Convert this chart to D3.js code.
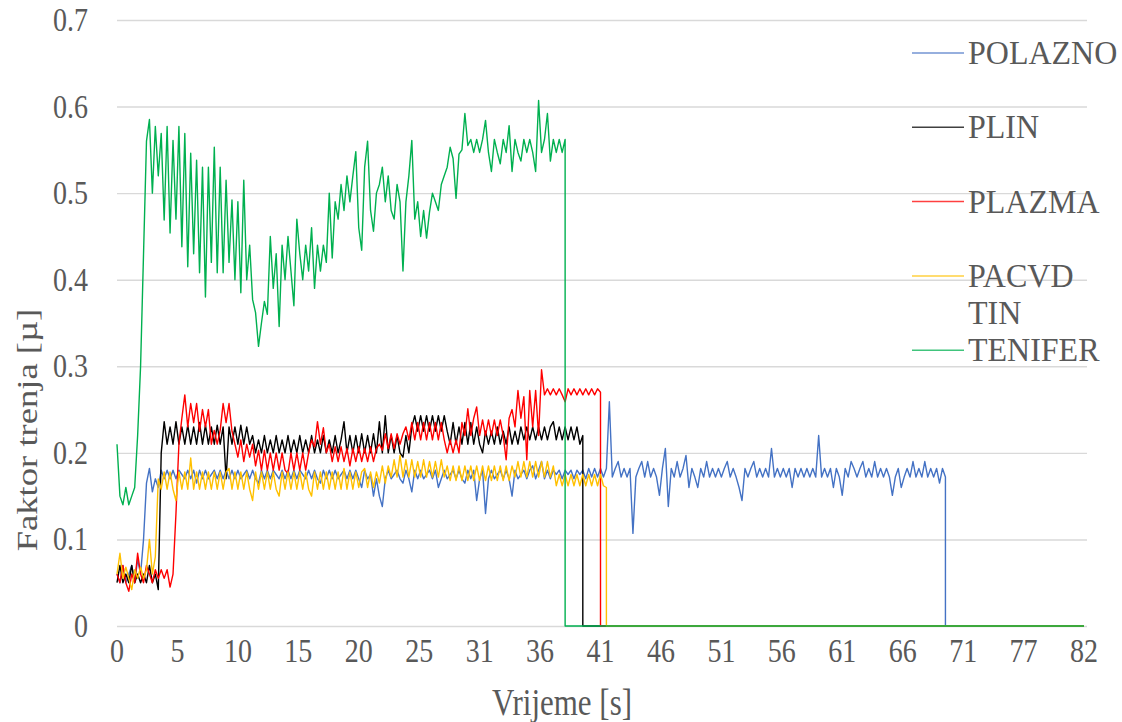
<!DOCTYPE html>
<html>
<head>
<meta charset="utf-8">
<script src="https://cdn.jsdelivr.net/npm/d3@7"></script>
<style>
  body { margin: 0; background: #fff; }
</style>
</head>
<body>
<div class="svg-container"></div>
<script>
// chart values (one sample every 0.25 s)
const sampleStep = 0.25;
const xMax = 82;
const xTickLabels = ['0', '5', '10', '15', '20', '25', '31', '36', '41', '46', '51', '56', '61', '66', '71', '77', '82'];
const yTicks = [0, 0.1, 0.2, 0.3, 0.4, 0.5, 0.6, 0.7];
const seriesNames = ['POLAZNO', 'PLIN', 'PLAZMA', 'PACVD TIN', 'TENIFER'];
const seriesColors = ['#4472C4', '#000000', '#FF0000', '#FFC000', '#00B050'];

const polaznoValues = [
  .06, .05, .07, .05, .06, .07, .05, .077, .06, .1, .165, .182, .155, .17, .16, .18, .17, .18, .17, .18,
  .17, .18, .175, .17, .18, .17, .18, .165, .18, .17, .18, .17, .175, .18, .17, .18, .17, .18, .17, .18,
  .17, .18, .17, .175, .18, .17, .18, .17, .165, .18, .17, .18, .17, .18, .175, .17, .18, .17, .18, .17,
  .18, .17, .18, .175, .17, .18, .17, .18, .17, .165, .18, .17, .18, .17, .18, .17, .175, .18, .17, .18,
  .17, .18, .17, .16, .18, .17, .175, .15, .17, .15, .138, .17, .18, .17, .175, .18, .17, .165, .18, .17,
  .155, .18, .17, .18, .17, .175, .18, .17, .18, .16, .17, .18, .17, .175, .18, .17, .18, .17, .165, .18,
  .17, .18, .145, .17, .18, .13, .17, .18, .17, .175, .18, .17, .18, .17, .15, .18, .17, .175, .18, .17,
  .18, .185, .17, .18, .19, .17, .18, .17, .18, .175, .18, .17, .18, .175, .18, .17, .18, .175, .18, .17,
  .182, .172, .182, .172, .182, .172, .182, .259, .172, .182, .19, .172, .182, .172, .182, .107, .172, .182, .19, .172,
  .19, .172, .182, .172, .151, .182, .205, .138, .182, .172, .19, .172, .182, .197, .16, .182, .172, .16, .182, .172,
  .19, .172, .182, .172, .182, .172, .182, .19, .172, .182, .172, .16, .145, .182, .172, .182, .19, .172, .182, .172,
  .182, .172, .205, .172, .182, .172, .182, .172, .182, .16, .182, .172, .182, .172, .182, .172, .182, .172, .22, .172,
  .182, .172, .182, .16, .182, .172, .151, .182, .172, .19, .182, .172, .182, .19, .172, .182, .172, .19, .172, .182,
  .172, .182, .172, .151, .172, .182, .16, .172, .182, .172, .19, .172, .182, .172, .19, .172, .182, .172, .182, .165,
  .182, .172
];

const plinValues = [
  .05, .07, .05, .06, .05, .07, .05, .06, .05, .06, .05, .07, .05, .06, .042, .20, .236, .21, .23, .21,
  .236, .21, .23, .21, .232, .21, .23, .21, .235, .21, .232, .21, .23, .21, .232, .21, .23, .17, .23, .21,
  .23, .21, .232, .21, .23, .21, .22, .20, .215, .20, .22, .20, .215, .20, .22, .20, .215, .20, .22, .20,
  .215, .20, .22, .20, .215, .20, .22, .20, .215, .20, .22, .20, .215, .20, .22, .20, .215, .236, .20, .22,
  .20, .22, .20, .222, .20, .22, .20, .222, .20, .236, .20, .243, .20, .22, .20, .22, .20, .195, .22, .20,
  .23, .243, .225, .243, .225, .243, .225, .243, .225, .243, .225, .243, .225, .21, .235, .21, .23, .21, .235, .21,
  .235, .21, .23, .21, .20, .225, .21, .225, .21, .23, .21, .225, .21, .23, .21, .225, .21, .23, .215, .23,
  .215, .23, .215, .23, .215, .23, .215, .23, .236, .215, .23, .215, .23, .215, .23, .215, .23, .21, .22
];

const plazmaValues = [
  .06, .05, .07, .05, .04, .06, .05, .084, .06, .05, .07, .06, .05, .065, .055, .065, .055, .065, .045, .06,
  .13, .21, .24, .267, .23, .257, .235, .257, .225, .25, .23, .25, .21, .226, .21, .226, .257, .235, .257, .225,
  .21, .195, .215, .19, .21, .195, .21, .185, .203, .18, .203, .18, .20, .18, .20, .18, .20, .18, .176, .20,
  .18, .20, .18, .20, .18, .20, .215, .207, .236, .21, .229, .20, .21, .19, .207, .19, .207, .19, .205, .185,
  .205, .19, .207, .19, .205, .19, .207, .19, .205, .21, .203, .222, .205, .222, .205, .222, .21, .222, .23, .215,
  .235, .215, .235, .215, .235, .215, .235, .215, .235, .215, .235, .215, .20, .215, .20, .215, .20, .235, .22, .251,
  .22, .24, .253, .22, .238, .22, .238, .22, .238, .22, .238, .22, .192, .24, .25, .23, .272, .24, .265, .192,
  .272, .23, .272, .22, .296, .267, .274, .267, .274, .267, .274, .267, .259, .274, .267, .274, .267, .274, .267, .274,
  .267, .274, .267, .274, .27
];

const pacvdValues = [
  .06, .084, .055, .068, .055, .042, .065, .055, .068, .055, .065, .1, .06, .08, .17, .158, .178, .158, .178, .158,
  .145, .178, .158, .178, .158, .194, .158, .178, .158, .178, .158, .178, .158, .178, .158, .178, .158, .178, .182, .158,
  .178, .158, .178, .158, .178, .158, .145, .178, .158, .178, .158, .178, .158, .178, .158, .15, .178, .158, .178, .158,
  .178, .158, .178, .158, .178, .158, .15, .178, .158, .178, .158, .178, .158, .178, .158, .178, .158, .182, .158, .178,
  .158, .178, .16, .178, .182, .16, .178, .16, .178, .165, .185, .165, .185, .172, .192, .172, .197, .172, .192, .172,
  .192, .172, .19, .172, .192, .172, .19, .172, .19, .172, .192, .172, .185, .168, .185, .168, .185, .168, .185, .168,
  .185, .168, .185, .168, .185, .168, .185, .168, .185, .168, .185, .168, .185, .168, .185, .172, .19, .172, .19, .172,
  .19, .172, .19, .172, .19, .172, .19, .172, .185, .162, .175, .162, .175, .162, .175, .162, .175, .162, .175, .162,
  .175, .162, .175, .162, .175, .162, .16
];

const teniferValues = [
  .21, .15, .14, .16, .14, .15, .16, .22, .30, .43, .56, .585, .50, .577, .52, .569, .469, .577, .454, .561,
  .47, .577, .438, .569, .415, .546, .43, .538, .408, .53, .38, .53, .42, .553, .408, .53, .408, .515, .42, .492,
  .40, .49, .385, .515, .40, .44, .377, .362, .323, .35, .375, .36, .45, .39, .43, .346, .44, .40, .45, .41,
  .37, .47, .43, .40, .44, .41, .46, .39, .44, .41, .44, .42, .50, .425, .49, .47, .51, .48, .52, .49,
  .52, .548, .46, .434, .53, .56, .48, .456, .50, .51, .53, .49, .52, .48, .47, .51, .49, .41, .49, .52,
  .561, .47, .49, .45, .48, .448, .478, .50, .49, .48, .51, .52, .53, .553, .54, .494, .545, .55, .592, .555,
  .562, .547, .562, .547, .562, .584, .547, .525, .562, .547, .534, .562, .547, .578, .525, .562, .547, .537, .562, .547,
  .562, .547, .525, .607, .547, .562, .592, .537, .562, .547, .562, .547, .562
];

const seriesValues = [polaznoValues, plinValues, plazmaValues, pacvdValues, teniferValues];

// layout
const width = 1122;
const height = 722;
const margin = { top: 20, right: 35, bottom: 96, left: 117 };
const plotW = width - margin.left - margin.right;
const plotH = height - margin.top - margin.bottom;
const gridColor = '#d9d9d9';
const textColor = '#595959';
const fontFamily = "'Liberation Serif', 'Times New Roman', serif";
const stretch = 1.22; // axis text in the picture is a bit taller than wide

const svg = d3.select('.svg-container')
  .append('svg')
  .attr('width', width)
  .attr('height', height);

const g = svg.append('g').attr('transform', `translate(${margin.left},${margin.top})`);

const x = d3.scaleLinear().domain([0, xMax]).range([0, plotW - 3]);
const y = d3.scaleLinear().domain([0, 0.7]).range([plotH, 0]);

// helper for stretched text
function label(parent, px, py, str, size, anchor, sy = stretch) {
  return parent.append('text')
    .attr('transform', `translate(${px},${py}) scale(1,${sy})`)
    .attr('text-anchor', anchor)
    .style('font-family', fontFamily)
    .style('font-size', size + 'px')
    .style('fill', textColor)
    .text(str);
}

// horizontal gridlines
const grid = g.append('g')
  .call(d3.axisLeft(y).tickValues(yTicks).tickSize(-plotW).tickFormat(''));
grid.select('.domain').remove();
grid.selectAll('.tick line').attr('stroke', gridColor).attr('stroke-width', 1.4);

// y labels
yTicks.forEach((v) => {
  label(g, -29, y(v) + 11, d3.format('')(v), 28, 'end');
});

// x labels, evenly spaced categories
xTickLabels.forEach((d, i) => {
  const t = (xMax * i) / (xTickLabels.length - 1);
  label(g, x(t), plotH + 36, d, 28, 'middle');
});

// series lines, first series drawn at the bottom
const line = d3.line()
  .x((d) => x(d[0]))
  .y((d) => y(d[1]));

seriesValues.forEach((vals, s) => {
  const pts = vals.map((v, i) => [i * sampleStep, v]);
  const lastT = (vals.length - 1) * sampleStep;
  pts.push([lastT, 0]);
  pts.push([xMax, 0]);
  g.append('path')
    .datum(pts)
    .attr('fill', 'none')
    .attr('stroke', seriesColors[s])
    .attr('stroke-width', 1.4)
    .attr('stroke-linejoin', 'round')
    .attr('d', line);
});

// axis titles
label(svg, 562, 715, 'Vrijeme [s]', 31, 'middle');
svg.append('text')
  .attr('transform', `translate(37,430) rotate(-90) scale(${stretch},1)`)
  .attr('text-anchor', 'middle')
  .style('font-family', fontFamily)
  .style('font-size', '30px')
  .style('fill', textColor)
  .text('Faktor trenja [µ]');

// legend
const legend = svg.append('g').attr('transform', 'translate(912,53)');
seriesNames.forEach((name, i) => {
  const item = legend.append('g').attr('transform', `translate(0,${i * 74.3})`);
  item.append('line')
    .attr('x1', 0).attr('x2', 52)
    .attr('y1', 0).attr('y2', 0)
    .attr('stroke', seriesColors[i])
    .attr('stroke-width', 1.5)
    .attr('stroke-opacity', 0.75);
  name.split(' ').forEach((w, j) => {
    label(item, 56, 11 + j * 37, w, 32, 'start', 1.05);
  });
});
</script>
</body>
</html>
